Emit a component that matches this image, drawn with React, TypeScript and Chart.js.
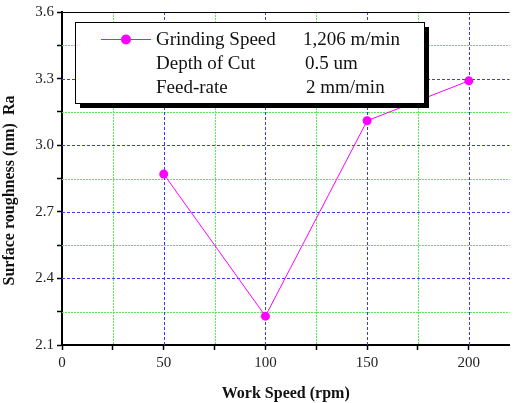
import React, { useEffect, useRef } from "react";
import { Chart, registerables } from "chart.js";

Chart.register(...registerables);

const workSpeed = [50, 100, 150, 200];
const roughness = [2.87, 2.23, 3.11, 3.29];
const xTicks = [0, 25, 50, 75, 100, 125, 150, 175, 200];
const xMajor = [0, 50, 100, 150, 200];
const yTicks = [2.1, 2.25, 2.4, 2.55, 2.7, 2.85, 3.0, 3.15, 3.3, 3.45, 3.6];
const yMajor = [2.1, 2.4, 2.7, 3.0, 3.3, 3.6];
const legendLabels = ["Grinding Speed", "Depth of Cut", "Feed-rate"];
const legendValues = ["1,206 m/min", "0.5 um", "2 mm/min"];

const BLUE = "#3a3aff";
const GREEN = "#55ee55";
const MAGENTA = "#ff00ff";

const near = (a: number, b: number) => Math.abs(a - b) < 1e-6;
const isMajorY = (v: number) => yMajor.some((m) => near(m, v));
const isMajorX = (v: number) => xMajor.some((m) => near(m, v));

const gridPlugin = {
  id: "customGrid",
  beforeDatasetsDraw(chart: any) {
    const ctx = chart.ctx;
    const { left, right, top, bottom } = chart.chartArea;
    const xs = chart.scales.x;
    const ys = chart.scales.y;
    ctx.save();
    ctx.lineWidth = 1;
    const line = (x1: number, y1: number, x2: number, y2: number, color: string, dash: number[]) => {
      ctx.strokeStyle = color;
      ctx.setLineDash(dash);
      ctx.beginPath();
      ctx.moveTo(x1, y1);
      ctx.lineTo(x2, y2);
      ctx.stroke();
    };
    const order = [false, true];
    order.forEach((major) => {
      yTicks.forEach((v) => {
        if (near(v, 2.1) || near(v, 3.6)) return;
        if (isMajorY(v) !== major) return;
        const y = Math.round(ys.getPixelForValue(v)) + 0.5;
        line(left, y, right, y, major ? BLUE : GREEN, major ? [3, 2] : [2, 1]);
      });
      xTicks.forEach((v) => {
        if (near(v, 0)) return;
        if (isMajorX(v) !== major) return;
        const x = Math.round(xs.getPixelForValue(v)) + 0.5;
        line(x, top, x, bottom, major ? BLUE : GREEN, major ? [3, 2] : [2, 1]);
      });
    });
    const yt = Math.round(ys.getPixelForValue(3.6)) + 0.5;
    line(left, yt, right, yt, "#000", []);
    ctx.restore();
  },
};

const legendPlugin = {
  id: "boxLegend",
  afterDraw(chart: any) {
    const ctx = chart.ctx;
    const bx = 75, by = 22, bw = 349, bh = 81;
    ctx.save();
    ctx.fillStyle = "#000";
    ctx.fillRect(bx + 5, by + 5, bw, bh);
    ctx.fillStyle = "#fff";
    ctx.fillRect(bx, by, bw, bh);
    ctx.strokeStyle = "#000";
    ctx.lineWidth = 1;
    ctx.strokeRect(bx + 0.5, by + 0.5, bw, bh);
    ctx.strokeStyle = MAGENTA;
    ctx.lineWidth = 1;
    ctx.beginPath();
    ctx.moveTo(101, 39.5);
    ctx.lineTo(151, 39.5);
    ctx.stroke();
    ctx.fillStyle = MAGENTA;
    ctx.beginPath();
    ctx.arc(126, 39.5, 5, 0, Math.PI * 2);
    ctx.fill();
    ctx.fillStyle = "#111";
    ctx.font = "19px 'Liberation Serif', 'DejaVu Serif', serif";
    ctx.textBaseline = "middle";
    ctx.textAlign = "left";
    const rows = [40, 64, 88];
    legendLabels.forEach((t, i) => ctx.fillText(t, 156, rows[i]));
    const vx = [303, 305, 306];
    legendValues.forEach((t, i) => ctx.fillText(t, vx[i], rows[i]));
    ctx.restore();
  },
};

export default function App() {
  const ref = useRef<HTMLCanvasElement>(null);
  useEffect(() => {
    document.body.style.margin = "0";
    const canvas = ref.current!;
    const chart = new Chart(canvas, {
      type: "scatter",
      data: {
        datasets: [
          {
            label: "Grinding Speed",
            data: workSpeed.map((x, i) => ({ x, y: roughness[i] })),
            showLine: true,
            borderColor: MAGENTA,
            backgroundColor: MAGENTA,
            borderWidth: 1,
            pointRadius: 4.5,
            pointBorderWidth: 0,
          },
        ],
      },
      options: {
        animation: false,
        responsive: false,
        layout: { padding: { top: 12, right: 0, left: 0, bottom: 0 } },
        plugins: { legend: { display: false }, tooltip: { enabled: false } },
        scales: {
          x: {
            type: "linear",
            min: 0,
            max: 220,
            afterBuildTicks: (s: any) => {
              s.ticks = xTicks.map((v) => ({ value: v }));
            },
            afterFit: (s: any) => {
              s.height = 58;
            },
            ticks: {
              autoSkip: false,
              maxRotation: 0,
              padding: 4,
              color: "#222",
              font: { family: "'Liberation Serif', serif", size: 15 },
              callback: (v: any) => (isMajorX(Number(v)) ? String(v) : ""),
            },
            grid: {
              drawOnChartArea: false,
              color: "#000",
              tickColor: "#000",
              tickLength: 5,
              tickWidth: 1.5,
            },
            border: { color: "#000", width: 2 },
            title: {
              display: true,
              text: "Work Speed (rpm)",
              color: "#111",
              font: { family: "'Liberation Serif', serif", size: 16, weight: "bold" },
              padding: { top: 7, bottom: 0 },
            },
          },
          y: {
            type: "linear",
            min: 2.1,
            max: 3.6,
            afterBuildTicks: (s: any) => {
              s.ticks = yTicks.map((v) => ({ value: v }));
            },
            afterFit: (s: any) => {
              s.width = 62;
            },
            ticks: {
              autoSkip: false,
              padding: 3,
              color: "#222",
              font: { family: "'Liberation Serif', serif", size: 15 },
              callback: (v: any) => (isMajorY(Number(v)) ? Number(v).toFixed(1) : ""),
            },
            grid: {
              drawOnChartArea: false,
              color: "#000",
              tickColor: "#000",
              tickLength: 5,
              tickWidth: 1.5,
            },
            border: { color: "#000", width: 2 },
            title: {
              display: true,
              text: "Surface roughness (nm)  Ra      ",
              color: "#111",
              font: { family: "'Liberation Serif', serif", size: 16, weight: "bold" },
              padding: { top: 0, bottom: 0 },
            },
          },
        },
      },
      plugins: [gridPlugin, legendPlugin],
    });
    return () => chart.destroy();
  }, []);
  return <canvas ref={ref} width={514} height={403} style={{ display: "block" }} />;
}
